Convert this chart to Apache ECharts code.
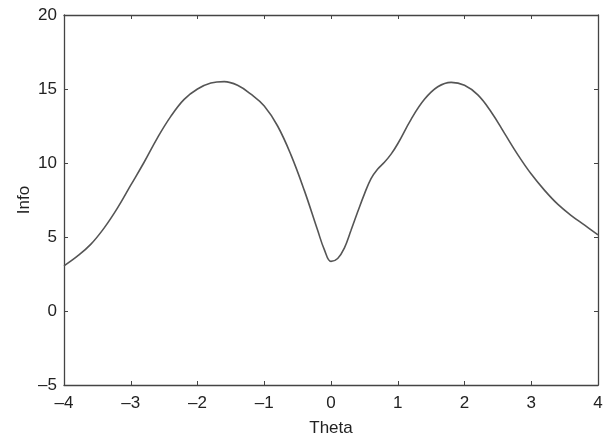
<!DOCTYPE html>
<html>
<head>
<meta charset="utf-8">
<script src="https://cdn.jsdelivr.net/npm/echarts@6/dist/echarts.min.js"></script>
<style>html,body{margin:0;padding:0;background:#fff}#c{width:608px;height:440px}</style>
</head>
<body>
<div id="c"></div>
<script>
const theta = [-4.0,-3.8,-3.6,-3.4,-3.2,-3.0,-2.8,-2.6,-2.4,-2.2,-2.0,-1.8,-1.6,-1.4,-1.2,-1.0,-0.8,-0.6,-0.4,-0.2,-0.1,0.0,0.1,0.2,0.3,0.4,0.5,0.6,0.7,0.8,0.9,1.0,1.2,1.4,1.6,1.8,2.0,2.2,2.4,2.6,2.8,3.0,3.2,3.4,3.6,3.8,4.0];
const info  = [3.05,3.7,4.5,5.6,6.95,8.5,10.05,11.7,13.15,14.3,15.0,15.4,15.5,15.25,14.65,13.85,12.5,10.55,8.15,5.45,4.15,3.35,3.55,4.25,5.45,6.7,7.9,8.95,9.6,10.05,10.6,11.3,12.95,14.3,15.15,15.45,15.25,14.6,13.45,12.0,10.55,9.25,8.15,7.2,6.45,5.8,5.15];
const xTicks = {min:-4, max:4, step:1};
const yTicks = {min:-5, max:20, step:5};

const fmt = v => (v < 0 ? '\u2013' + Math.abs(v) : String(v));
const axisColor = '#444';
const font = 'Liberation Sans, Arial, sans-serif';
const chart = echarts.init(document.getElementById('c'), null, {renderer:'canvas'});
const common = {
  axisLine:{show:true, onZero:false, lineStyle:{color:axisColor, width:1.3}},
  axisTick:{show:true, inside:true, length:4, lineStyle:{color:axisColor, width:1}},
  splitLine:{show:false}
};
chart.setOption({
  animation:false,
  backgroundColor:'#fff',
  grid:{left:64, right:10, top:15, bottom:55, containLabel:false, outerBoundsMode:'none'},
  xAxis:[
    Object.assign({type:'value', position:'bottom', min:xTicks.min, max:xTicks.max, interval:xTicks.step,
      name:'Theta', nameLocation:'middle', nameGap:35, nameMoveOverlap:false,
      nameTextStyle:{fontFamily:font, fontSize:17, color:'#222'},
      axisLabel:{formatter:fmt, fontFamily:font, fontSize:17, color:'#222', margin:10}}, common),
    Object.assign({type:'value', position:'top', min:xTicks.min, max:xTicks.max, interval:xTicks.step,
      axisLabel:{show:false}}, common)
  ],
  yAxis:[
    Object.assign({type:'value', position:'left', min:yTicks.min, max:yTicks.max, interval:yTicks.step,
      name:'Info', nameLocation:'middle', nameGap:31, nameMoveOverlap:false,
      nameTextStyle:{fontFamily:font, fontSize:17, color:'#222'},
      axisLabel:{formatter:fmt, fontFamily:font, fontSize:17, color:'#222', margin:7}}, common),
    Object.assign({type:'value', position:'right', min:yTicks.min, max:yTicks.max, interval:yTicks.step,
      axisLabel:{show:false}}, common)
  ],
  series:[{
    type:'line', xAxisIndex:0, yAxisIndex:0,
    data: theta.map((t,i)=>[t, info[i]]),
    smooth:0.4, showSymbol:false, symbol:'none',
    lineStyle:{color:'#555', width:1.6}
  }]
});
</script>
</body>
</html>
